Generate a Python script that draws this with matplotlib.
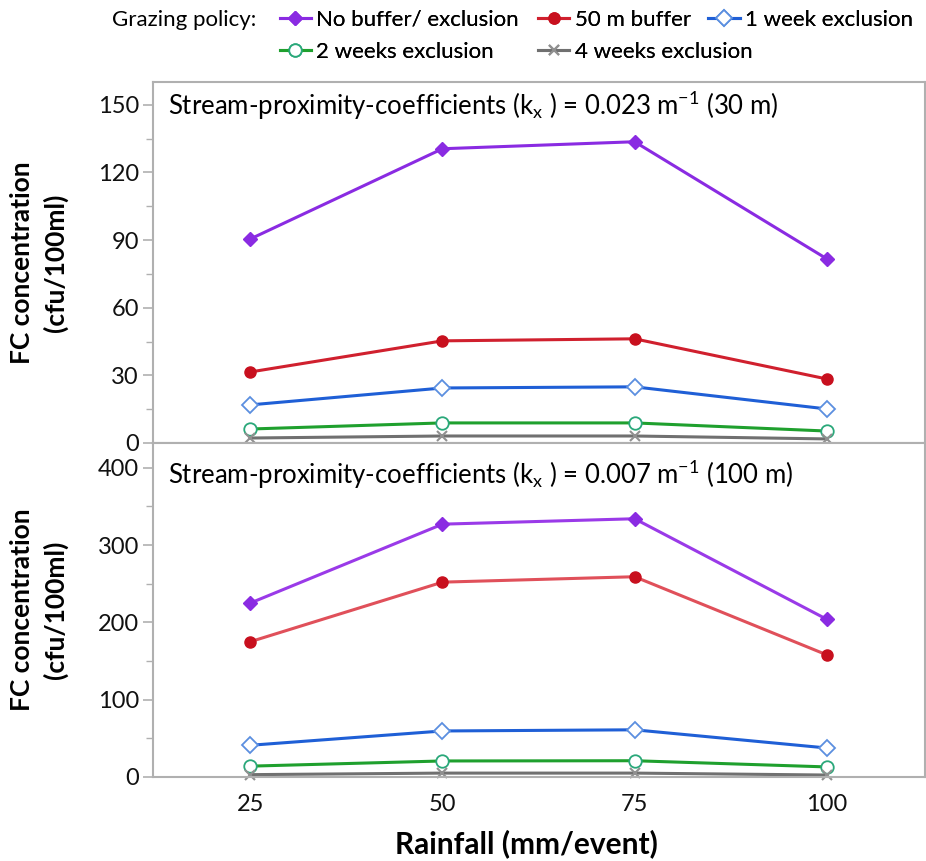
"""
FC concentration vs rainfall for grazing policies, two stream-proximity coefficients.
"""

import matplotlib
matplotlib.use('Agg')
import matplotlib.pyplot as plt
from matplotlib.ticker import MultipleLocator

plt.rcParams['font.family'] = ['Lato', 'DejaVu Sans']
plt.rcParams['mathtext.fontset'] = 'custom'
plt.rcParams['mathtext.rm'] = 'Lato'
plt.rcParams['mathtext.it'] = 'Lato'

# ==========================================
# Data
# ==========================================
RAINFALL = [25, 50, 75, 100]
POLICIES = ['No buffer/ exclusion', '50 m buffer', '1 week exclusion',
            '2 weeks exclusion', '4 weeks exclusion']

# kx = 0.023 m-1 (30 m)
TOP_NO_BUFFER = [90.5, 130.5, 133.6, 81.7]
TOP_BUFFER_50 = [31.5, 45.3, 46.2, 28.4]
TOP_WEEK_1 = [16.9, 24.4, 24.9, 15.1]
TOP_WEEK_2 = [6.2, 8.9, 8.9, 5.3]
TOP_WEEK_4 = [2.2, 3.1, 3.1, 1.8]

# kx = 0.007 m-1 (100 m)
BOT_NO_BUFFER = [225, 327, 334, 204]
BOT_BUFFER_50 = [175, 252, 259, 158]
BOT_WEEK_1 = [41, 59.5, 61, 37.5]
BOT_WEEK_2 = [14, 20.7, 21, 13]
BOT_WEEK_4 = [3, 5, 5, 2.5]

STYLES = [
    dict(color='#8a2be2', marker='D', ms=7, mfc='#8a2be2', mec='#8a2be2'),
    dict(color='#d0202e', marker='o', ms=8, mfc='#c8101e', mec='#c8101e'),
    dict(color='#1f5fd6', marker='D', ms=8, mfc='white', mec='#5b8fe0', mew=1.3),
    dict(color='#1fa02e', marker='o', ms=9, mfc='white', mec='#2aa87a', mew=1.3),
    dict(color='#707070', marker='x', ms=7, mec='#909090', mew=1.5),
]
BOT_LINE_COLORS = ['#9a3ae8', '#e0505a', '#1f5fd6', '#1fa02e', '#707070']
GRID_GRAY = '#b0b0b0'

# legend entry anchors (figure fraction): left edge of handle, row centre
LEGEND_POS = [(0.302, 0.977), (0.581, 0.977), (0.765, 0.977),
              (0.302, 0.940), (0.581, 0.940)]


def style_axes(ax, ymax, major, minor):
    ax.set_xlim(12.3, 112.8)
    ax.set_ylim(0, ymax)
    ax.yaxis.set_major_locator(MultipleLocator(major))
    ax.yaxis.set_minor_locator(MultipleLocator(minor))
    for sp in ax.spines.values():
        sp.set_color(GRID_GRAY)
        sp.set_linewidth(1.5)
    ax.tick_params(axis='y', which='major', length=7, width=1.2, color=GRID_GRAY,
                   labelsize=17, labelcolor='#111111', pad=3)
    ax.tick_params(axis='y', which='minor', length=5, width=1.0, color=GRID_GRAY)
    ax.tick_params(axis='x', length=0, labelsize=17, labelcolor='#111111', pad=12)
    ax.set_ylabel('FC concentration\n(cfu/100ml)', fontsize=19, fontweight='bold',
                  labelpad=21, linespacing=1.45)


fig = plt.figure(figsize=(9.26, 8.61), dpi=100)
ax_top = fig.add_axes([0.165, 0.4855, 0.834, 0.419])
ax_bot = fig.add_axes([0.165, 0.0976, 0.834, 0.3879])

top_series = [TOP_NO_BUFFER, TOP_BUFFER_50, TOP_WEEK_1, TOP_WEEK_2, TOP_WEEK_4]
bot_series = [BOT_NO_BUFFER, BOT_BUFFER_50, BOT_WEEK_1, BOT_WEEK_2, BOT_WEEK_4]

handles = []
for vals, name, st in zip(top_series, POLICIES, STYLES):
    h, = ax_top.plot(RAINFALL, vals, lw=2.2, label=name, clip_on=False, **st)
    handles.append(h)
for vals, st, lc in zip(bot_series, STYLES, BOT_LINE_COLORS):
    ax_bot.plot(RAINFALL, vals, lw=2.2, clip_on=False, **dict(st, color=lc))

style_axes(ax_top, 160, 30, 15)
style_axes(ax_bot, 432, 100, 50)
ax_top.set_xticks([])
ax_bot.set_xticks(RAINFALL)
ax_bot.set_xlabel('Rainfall (mm/event)', fontsize=21.5, fontweight='bold', labelpad=12)
ax_bot.xaxis.set_label_coords(0.484, -0.155)

ax_top.text(0.02, 0.935, r'Stream-proximity-coefficients (k$_\mathrm{x}$ ) = 0.023 m$^\mathrm{-1}$ (30 m)',
            transform=ax_top.transAxes, fontsize=18.5, va='center', ha='left')
ax_bot.text(0.02, 0.905, r'Stream-proximity-coefficients (k$_\mathrm{x}$ ) = 0.007 m$^\mathrm{-1}$ (100 m)',
            transform=ax_bot.transAxes, fontsize=18.5, va='center', ha='left')

# Legend: title text + one small legend per entry
fig.text(0.121, 0.977, 'Grazing policy:', fontsize=16, va='center', ha='left')
for h, name, pos in zip(handles, POLICIES, LEGEND_POS):
    leg = fig.legend([h], [name], loc='center left', bbox_to_anchor=pos,
                     frameon=False, fontsize=16, handlelength=1.4, handletextpad=0.25,
                     borderaxespad=0, borderpad=0)
    fig.add_artist(leg)

fig.savefig('out.png', dpi=100)
plt.close()
